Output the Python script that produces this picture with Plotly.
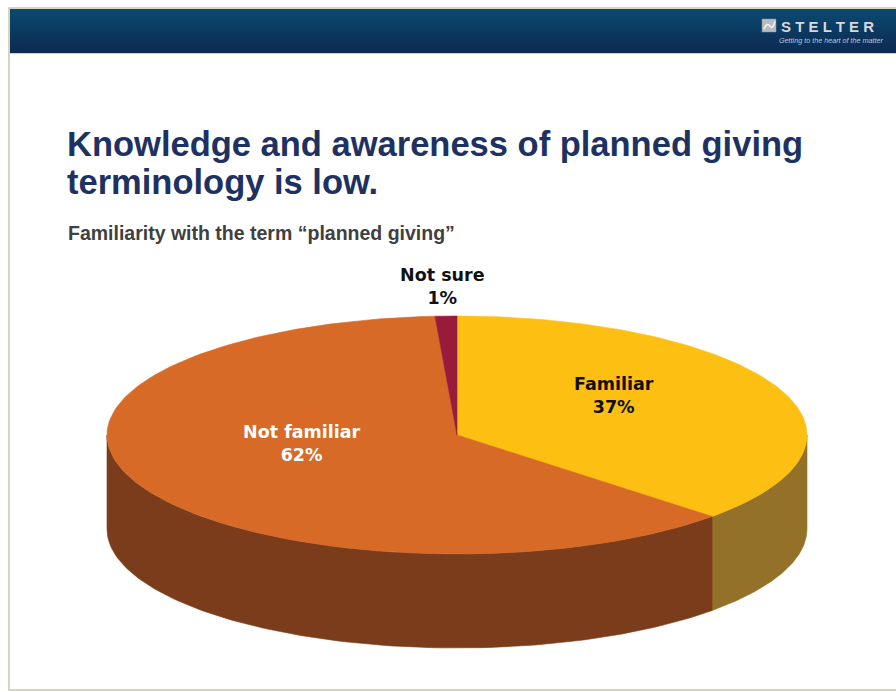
import numpy as np
import plotly.graph_objects as go

# ---- data ----
categories = ["Familiar", "Not familiar", "Not sure"]
shares = [37, 62, 1]
top_colors = ["#FDBF12", "#D66A26", "#981B3C"]
side_colors = ["#947128", "#7A3C1A", "#5C1024"]
label_colors = ["#111111", "#FFFFFF", "#111111"]

title_lines = ["Knowledge and awareness of planned giving", "terminology is low."]
subtitle = "Familiarity with the term \u201cplanned giving\u201d"
brand = "S T E L T E R"
tagline = "Getting to the heart of the matter"

# ---- pie geometry (page units, y grows downward) ----
CX, CY = 457, 435      # centre of the top face
RX, RY = 350, 119      # ellipse radii of the top face
DEPTH = 94             # thickness of the disc


def rim(theta_deg, drop=0.0):
    t = np.radians(theta_deg)
    return CX + RX * np.sin(t), CY - RY * np.cos(t) + drop


fig = go.Figure()

# header band: lighter blue at the top fading to navy at the bottom
fig.add_trace(go.Scatter(
    x=[10, 896, 896, 10, 10], y=[9, 9, 53, 53, 9], mode="lines",
    fill="toself", line=dict(width=0),
    fillgradient=dict(type="vertical", start=9, stop=53,
                      colorscale=[[0, "#0A4A71"], [1, "#0E2951"]]),
    hoverinfo="skip", showlegend=False))

# slice angles, clockwise from 12 o'clock
total = float(sum(shares))
edges = np.concatenate([[0.0], np.cumsum(shares) / total * 360.0])

# front walls first (only the half facing the viewer, 90..270 deg)
for i, name in enumerate(categories):
    a, b = max(edges[i], 90.0), min(edges[i + 1], 270.0)
    if b <= a:
        continue
    th = np.linspace(a, b, 120)
    xt, yt = rim(th)
    xb, yb = rim(th[::-1], DEPTH)
    fig.add_trace(go.Scatter(
        x=np.concatenate([xt, xb, xt[:1]]), y=np.concatenate([yt, yb, yt[:1]]),
        mode="lines", fill="toself", fillcolor=side_colors[i],
        line=dict(width=0.6, color=side_colors[i]),
        hoverinfo="skip", showlegend=False))

# top faces
for i, name in enumerate(categories):
    th = np.linspace(edges[i], edges[i + 1], 200)
    xa, ya = rim(th)
    fig.add_trace(go.Scatter(
        x=np.concatenate([[CX], xa, [CX]]), y=np.concatenate([[CY], ya, [CY]]),
        mode="lines", fill="toself", fillcolor=top_colors[i],
        line=dict(width=0.6, color=top_colors[i]),
        hoverinfo="skip", showlegend=False, name=name))

# slice labels
for i, name in enumerate(categories):
    mid = (edges[i] + edges[i + 1]) / 2
    text = f"<b>{name}<br>{shares[i]}%</b>"
    if shares[i] >= 5:
        t = np.radians(mid)
        lx = CX + 0.49 * RX * np.sin(t)
        ly = CY - 0.49 * RY * np.cos(t) - 16
    else:
        ex, ey = rim(mid)
        lx, ly = ex - 4, ey - 30
    fig.add_annotation(x=lx, y=ly, text=text, showarrow=False,
                       xanchor="center", yanchor="middle",
                       font=dict(family="DejaVu Sans", size=17.5,
                                 color=label_colors[i]))

annotations = [
    dict(x=65, y=144, text="<b>" + title_lines[0] + "</b>",
         xanchor="left", yanchor="middle", align="left",
         font=dict(family="Liberation Sans", size=34.5, color="#1E3262")),
    dict(x=65, y=182, text="<b>" + title_lines[1] + "</b>",
         xanchor="left", yanchor="middle", align="left",
         font=dict(family="Liberation Sans", size=34.5, color="#1E3262")),
    dict(x=66, y=233, text="<b>" + subtitle + "</b>",
         xanchor="left", yanchor="middle", align="left",
         font=dict(family="Liberation Sans", size=19.5, color="#404040")),
    dict(x=779, y=26, text="<b>" + brand + "</b>",
         xanchor="left", yanchor="middle",
         font=dict(family="Liberation Sans", size=15, color="#D8D8D8")),
    dict(x=885, y=40, text="<i>" + tagline + "</i>",
         xanchor="right", yanchor="middle",
         font=dict(family="Liberation Sans", size=7.2, color="#B9C6D4")),
]
for a in annotations:
    fig.add_annotation(showarrow=False, **a)

shapes = [
    # slide frame
    dict(type="rect", x0=9, y0=8, x1=903, y1=690,
         line=dict(color="#CBC6A8", width=1.5), fillcolor="rgba(0,0,0,0)"),
    # thin rule under the header
    dict(type="line", x0=10, y0=53.5, x1=896, y1=53.5,
         line=dict(color="#C6CEDE", width=1)),
    # logo mark
    dict(type="rect", x0=762, y0=19, x1=776, y1=32,
         line=dict(color="#8E949A", width=0.5), fillcolor="#B8BCC0"),
    dict(type="path", path="M 764 29 Q 767 22 770 26 T 775 21",
         line=dict(color="#F2F2F2", width=1.5)),
]

fig.update_layout(
    width=896, height=692,
    margin=dict(l=0, r=0, t=0, b=0),
    paper_bgcolor="white", plot_bgcolor="white",
    xaxis=dict(range=[0, 896], visible=False, fixedrange=True),
    yaxis=dict(range=[692, 0], visible=False, fixedrange=True),
    shapes=shapes,
    showlegend=False,
)

fig.write_html("out.html")
